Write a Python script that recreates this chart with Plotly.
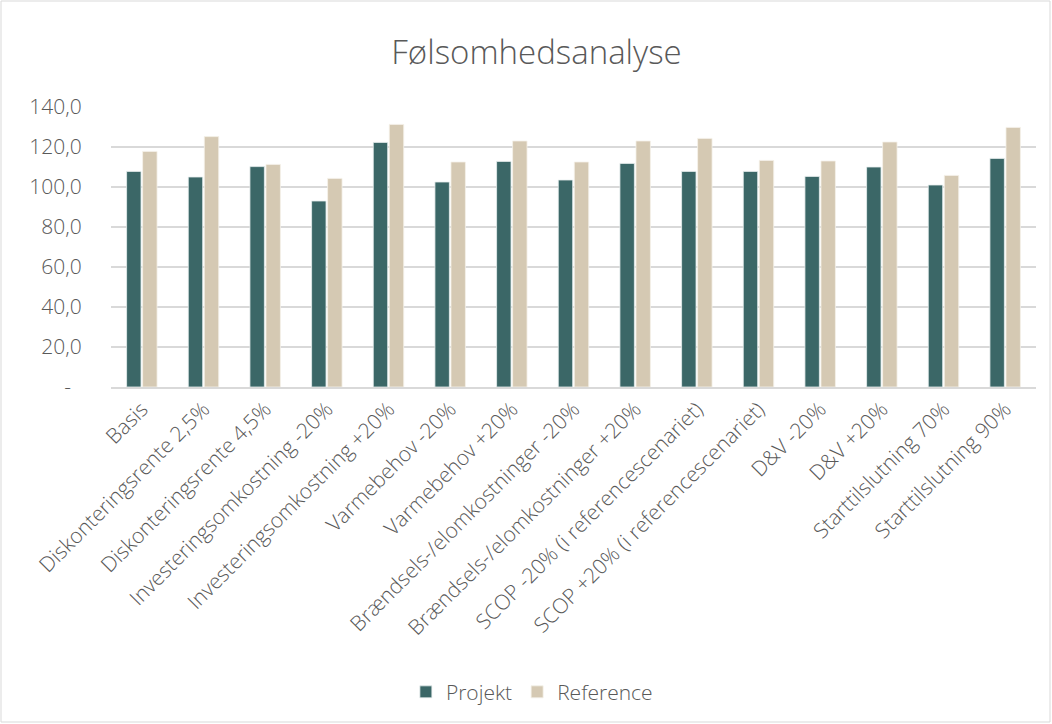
import plotly.graph_objects as go

categories = [
    "Basis", "Diskonteringsrente 2,5%", "Diskonteringsrente 4,5%",
    "Investeringsomkostning -20%", "Investeringsomkostning +20%",
    "Varmebehov -20%", "Varmebehov +20%",
    "Brændsels-/elomkostninger -20%", "Brændsels-/elomkostninger +20%",
    "SCOP -20% (i referencescenariet)", "SCOP +20% (i referencescenariet)",
    "D&V -20%", "D&V +20%", "Starttilslutning 70%", "Starttilslutning 90%",
]
projekt = [107.8, 105.0, 110.2, 93.0, 122.3, 102.5, 112.8, 103.5, 111.8, 107.8, 107.8, 105.3, 110.0, 101.0, 114.3]
reference = [117.8, 125.2, 111.3, 104.3, 131.3, 112.5, 123.0, 112.5, 123.0, 124.3, 113.3, 113.0, 122.5, 105.8, 129.8]
tick_vals = [0, 20, 40, 60, 80, 100, 120, 140]
tick_text = ["-\u00a0\u00a0", "20,0", "40,0", "60,0", "80,0", "100,0", "120,0", "140,0"]

FONT = "Open Sans"
GRAY = "#595959"

fig = go.Figure()
fig.add_trace(go.Bar(name="Projekt", x=categories, y=projekt,
                     marker=dict(color="#3B6767", line=dict(color="#e8efef", width=0.8))))
fig.add_trace(go.Bar(name="Reference", x=categories, y=reference,
                     marker=dict(color="#D5C9B3", line=dict(color="#f5f1ea", width=0.8))))

fig.update_layout(
    width=1052, height=724,
    margin=dict(l=111, r=16, t=107, b=337),
    paper_bgcolor="white", plot_bgcolor="white",
    barmode="group", bargap=0.48, bargroupgap=0.1,
    title=dict(text="Følsomhedsanalyse", x=0.51, xanchor="center", y=0.928, yanchor="middle",
               font=dict(family=FONT, size=33, color=GRAY, weight=300)),
    font=dict(family=FONT, color=GRAY, size=21),
    legend=dict(orientation="h", x=0.455, xanchor="center", y=-1.09, yanchor="middle",
                font=dict(family=FONT, size=21, color=GRAY, weight=300),
                itemwidth=30, traceorder="normal"),
    shapes=[dict(type="rect", xref="paper", yref="paper",
                 x0=(1 - 111) / 925, x1=(1050 - 111) / 925,
                 y0=(387 - 722) / 280, y1=(387 - 1) / 280,
                 line=dict(color="#d9d9d9", width=1), fillcolor="rgba(0,0,0,0)", layer="below")],
)
fig.update_xaxes(tickangle=-45, showgrid=False, showline=True, linecolor="#d9d9d9", linewidth=1.5,
                 ticks="", tickfont=dict(family=FONT, size=21, color=GRAY, weight=300))
fig.update_yaxes(range=[0, 140], tickvals=tick_vals, ticktext=tick_text, showgrid=True,
                 gridcolor="#d9d9d9", gridwidth=1.5, zeroline=False,
                 ticks="outside", ticklen=24, tickcolor="rgba(0,0,0,0)",
                 tickfont=dict(family=FONT, size=21, color=GRAY, weight=300))

fig.write_html("out.html")
